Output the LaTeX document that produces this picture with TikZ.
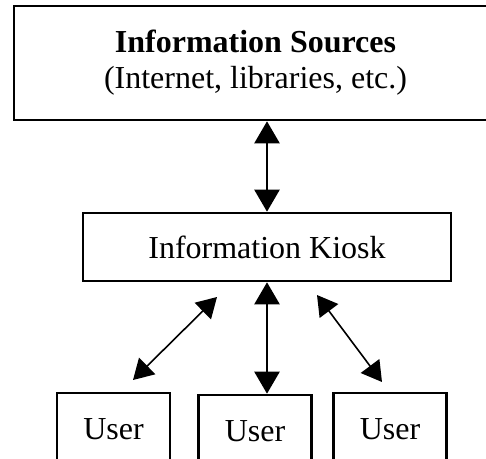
\documentclass[tikz,border=0pt]{standalone}
\usepackage{fontspec}
\setmainfont{Liberation Serif}
\usetikzlibrary{arrows.meta,positioning}

\begin{document}
\begin{tikzpicture}[
  x=1pt,y=1pt,
  every node/.style={font=\fontsize{32}{36}\selectfont},
  bx/.style={draw,line width=2.6pt,align=center,inner sep=0pt},
  usr/.style={bx,minimum width=113pt,minimum height=72pt},
  a/.style={{Triangle[length=22pt,width=25pt]}-{Triangle[length=22pt,width=25pt]},line width=2.4pt},
  d/.style={{Triangle[length=20pt,width=23pt]}-{Triangle[length=20pt,width=23pt]},line width=1.6pt}
]
  \useasboundingbox (0,0) rectangle (486,-458);
  \node[bx,minimum width=483pt,minimum height=114pt] (src) at (255.5,-63)
    {\textbf{Information Sources}\\(Internet, libraries, etc.)};
  \node[bx,minimum width=368pt,minimum height=68pt] (kiosk) at (267,-247) {Information Kiosk};
  \node[usr] (u1) at (113.5,-429) {User};
  \node[usr] (u2) at (255,-431) {User};
  \node[usr] (u3) at (390,-429) {User};
  % free ends of the slanted links
  \coordinate (l1) at (217,-297);
  \coordinate (l2) at (133,-380);
  \coordinate (r1) at (317,-295);
  \coordinate (r2) at (382,-382);
  \draw[a] (kiosk.north |- src.south) -- (kiosk.north);
  \draw[a] (kiosk.south) -- (kiosk.south |- u2.north);
  \draw[d] (l1) -- (l2);
  \draw[d] (r1) -- (r2);
\end{tikzpicture}
\end{document}
